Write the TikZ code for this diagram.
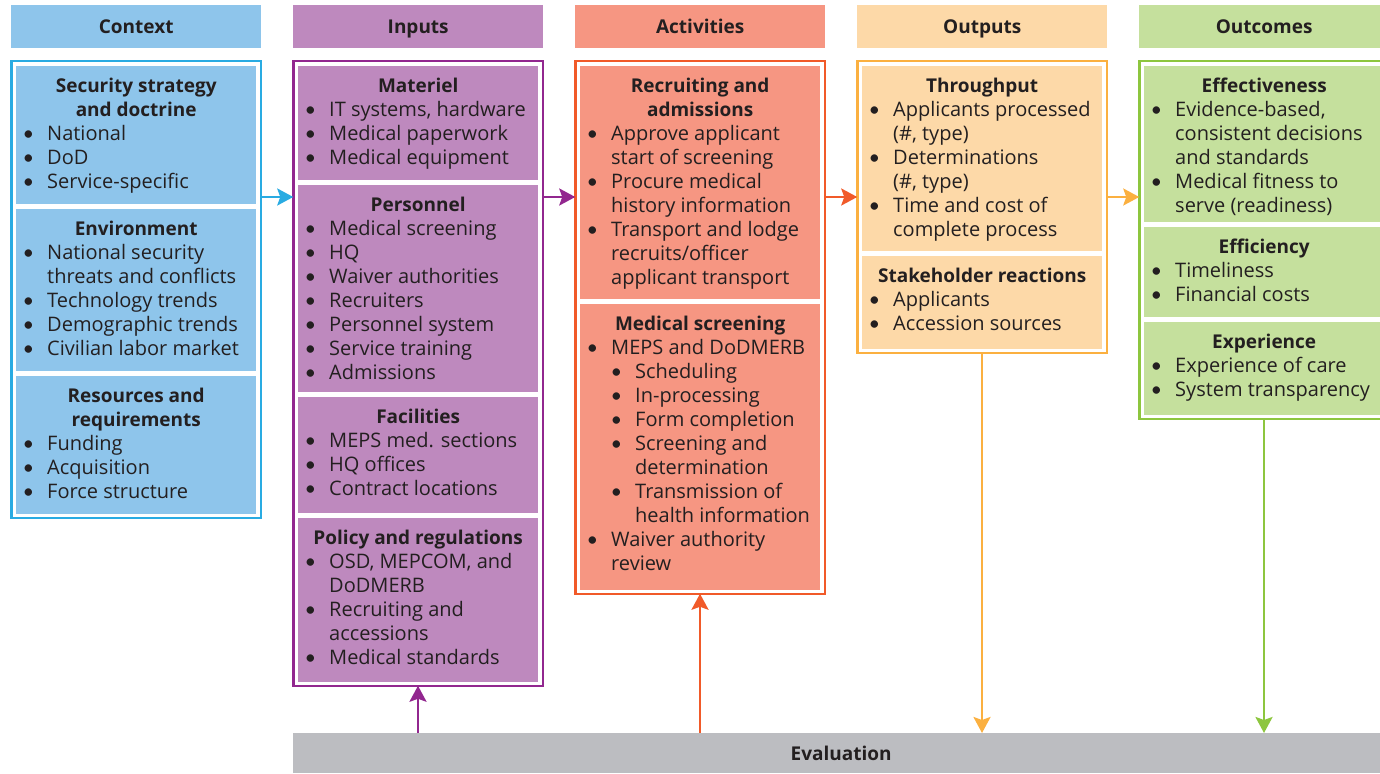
\documentclass[tikz,border=0pt]{standalone}
\usepackage{fontspec}
\setmainfont{Open Sans}
\newfontfamily\bulletfont{Lato}
\usetikzlibrary{arrows.meta}
\definecolor{textcol}{RGB}{35,31,32}
\definecolor{ctxfill}{RGB}{142,197,235}
\definecolor{ctxline}{RGB}{41,171,226}
\definecolor{inpfill}{RGB}{190,137,190}
\definecolor{inpline}{RGB}{146,39,143}
\definecolor{actfill}{RGB}{246,150,130}
\definecolor{actline}{RGB}{241,90,41}
\definecolor{outfill}{RGB}{253,217,168}
\definecolor{outline}{RGB}{251,176,64}
\definecolor{ocmfill}{RGB}{197,224,157}
\definecolor{ocmline}{RGB}{141,198,63}
\definecolor{evalfill}{RGB}{188,189,193}
\newcommand{\bodyfont}{\fontsize{20}{24}\selectfont}
\newcommand{\headfont}{\fontsize{19}{24}\selectfont\bfseries}
\newcommand{\cellhead}[1]{{\centering\headfont\rule{0pt}{26pt}#1\par}}
\newcommand{\dotmark}{\makebox[26pt][l]{\hspace{1.5pt}{\bulletfont\textbullet}}}
\newcommand{\bul}[1]{\par\hangindent=26pt\hangafter=1\noindent\dotmark#1}
\newcommand{\subbul}[1]{\par\hangindent=50pt\hangafter=1\noindent\hspace*{24pt}\dotmark#1}
\newcommand{\cellpar}[2]{\parbox[t][#1pt][t]{230pt}{\raggedright #2\par}}
\begin{document}
\begin{tikzpicture}[x=1pt,y=-1pt,
  head/.style={anchor=north west,inner sep=0pt,minimum width=250pt,minimum height=43pt,text height=16pt,text depth=2pt,text=textcol,font=\headfont},
  framebox/.style={anchor=north west,draw,line width=2.5pt,outer sep=0pt,inner sep=0pt,minimum width=249.5pt},
  cellbox/.style={anchor=north west,inner xsep=5pt,inner ysep=0pt,text=textcol,font=\bodyfont},
  link/.style={line width=2.5pt,-{Stealth[length=16pt,width=17pt,inset=3pt]}}]
\useasboundingbox (0,0) rectangle (1380,773);
\clip (0,0) rectangle (1380,773);
\coordinate (arrowrow) at (0,197);

\node[head,fill=ctxfill] (ctxhead) at (11,5) {Context};
\node[head,fill=inpfill] (inphead) at (293,5) {Inputs};
\node[head,fill=actfill] (acthead) at (575,5) {Activities};
\node[head,fill=outfill] (outhead) at (857,5) {Outputs};
\node[head,fill=ocmfill] (ocmhead) at (1139,5) {Outcomes};

\node[framebox,draw=ctxline,minimum height=456.5pt] (ctxframe) at (11.25,61.25) {};
\node[framebox,draw=inpline,minimum height=624.5pt] (inpframe) at (293.25,61.25) {};
\node[framebox,draw=actline,minimum height=532.5pt] (actframe) at (575.25,61.25) {};
\node[framebox,draw=outline,minimum height=291.5pt] (outframe) at (857.25,61.25) {};
\node[framebox,draw=ocmline,minimum height=357.5pt] (ocmframe) at (1139.25,61.25) {};

\node[cellbox,fill=ctxfill] (ctxsec) at (16,66) {\cellpar{138}{\cellhead{Security strategy\\ and doctrine}
  \bul{National}\bul{DoD}\bul{Service-specific}}};
\node[cellbox,fill=ctxfill] (ctxenv) at (16,209) {\cellpar{162}{\cellhead{Environment}
  \bul{National security\newline threats and conflicts}\bul{Technology trends}\bul{Demographic trends}\bul{Civilian labor market}}};
\node[cellbox,fill=ctxfill] (ctxres) at (16,376) {\cellpar{138}{\cellhead{Resources and\\ requirements}
  \bul{Funding}\bul{Acquisition}\bul{Force structure}}};

\node[cellbox,fill=inpfill] (inpmat) at (298,66) {\cellpar{114}{\cellhead{Materiel}
  \bul{IT systems, hardware}\bul{Medical paperwork}\bul{Medical equipment}}};
\node[cellbox,fill=inpfill] (inpper) at (298,185) {\cellpar{207}{\cellhead{Personnel}
  \bul{Medical screening}\bul{HQ}\bul{Waiver authorities}\bul{Recruiters}\bul{Personnel system}\bul{Service training}\bul{Admissions}}};
\node[cellbox,fill=inpfill] (inpfac) at (298,397) {\cellpar{116}{\cellhead{Facilities}
  \bul{MEPS med. sections}\bul{HQ offices}\bul{Contract locations}}};
\node[cellbox,fill=inpfill] (inppol) at (298,518) {\cellpar{164}{\cellhead{Policy and regulations}
  \bul{OSD, MEPCOM, and\newline DoDMERB}\bul{Recruiting and\newline accessions}\bul{Medical standards}}};

\node[cellbox,fill=actfill] (actrec) at (580,66) {\cellpar{233}{\cellhead{Recruiting and\\ admissions}
  \bul{Approve applicant\newline start of screening}\bul{Procure medical\newline history information}\bul{Transport and lodge\newline recruits/officer\newline applicant transport}}};
\node[cellbox,fill=actfill] (actmed) at (580,304) {\cellpar{286}{\cellhead{Medical screening}
  \bul{MEPS and DoDMERB}\subbul{Scheduling}\subbul{In-processing}\subbul{Form completion}\subbul{Screening and\newline determination}\subbul{Transmission of\newline health information}
  \bul{Waiver authority\newline review}}};

\node[cellbox,fill=outfill] (outthr) at (862,66) {\cellpar{185}{\cellhead{Throughput}
  \bul{Applicants processed\newline (\#, type)}\bul{Determinations\newline (\#, type)}\bul{Time and cost of\newline complete process}}};
\node[cellbox,fill=outfill] (outsta) at (862,256) {\cellpar{93}{\cellhead{Stakeholder reactions}
  \bul{Applicants}\bul{Accession sources}}};

\node[cellbox,fill=ocmfill] (ocmeff) at (1144,66) {\cellpar{156}{\cellhead{Effectiveness}
  \bul{Evidence-based,\newline consistent decisions\newline and standards}\bul{Medical fitness to\newline serve (readiness)}}};
\node[cellbox,fill=ocmfill] (ocmefc) at (1144,227) {\cellpar{90}{\cellhead{Efficiency}
  \bul{Timeliness}\bul{Financial costs}}};
\node[cellbox,fill=ocmfill] (ocmexp) at (1144,322) {\cellpar{93}{\cellhead{Experience}
  \bul{Experience of care}\bul{System transparency}}};

\node[head,minimum width=1096pt,minimum height=40pt,fill=evalfill] (eval) at (293,733) {Evaluation};

\draw[link,ctxline] (ctxframe.east |- arrowrow) -- (inpframe.west |- arrowrow);
\draw[link,inpline] (inpframe.east |- arrowrow) -- (actframe.west |- arrowrow);
\draw[link,actline] (actframe.east |- arrowrow) -- (outframe.west |- arrowrow);
\draw[link,outline] (outframe.east |- arrowrow) -- (ocmframe.west |- arrowrow);
\draw[link,inpline] (inpframe.south |- eval.north) -- (inpframe.south);
\draw[link,actline] (actframe.south |- eval.north) -- (actframe.south);
\draw[link,outline] (outframe.south) -- (outframe.south |- eval.north);
\draw[link,ocmline] (ocmframe.south) -- (ocmframe.south |- eval.north);
\end{tikzpicture}
\end{document}
